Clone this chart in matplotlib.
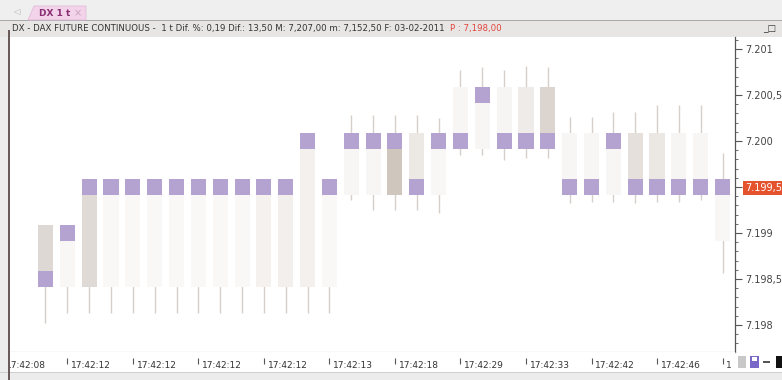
import matplotlib
matplotlib.use("Agg")
import matplotlib.pyplot as plt
from matplotlib.patches import Rectangle, Polygon
from matplotlib import font_manager
import numpy as np

# tick candles (prices in index points)
opens = [7199.0, 7198.5, 7198.5, 7198.5, 7198.5, 7198.5, 7198.5, 7198.5, 7198.5, 7198.5,
         7198.5, 7198.5, 7198.5, 7198.5, 7199.5, 7199.5, 7199.5, 7200.0, 7199.5, 7200.5,
         7200.0, 7200.5, 7200.5, 7200.5, 7200.0, 7200.0, 7199.5, 7200.0, 7200.0, 7200.0,
         7200.0, 7199.0]
closes = [7198.5, 7199.0, 7199.5, 7199.5, 7199.5, 7199.5, 7199.5, 7199.5, 7199.5, 7199.5,
          7199.5, 7199.5, 7200.0, 7199.5, 7200.0, 7200.0, 7200.0, 7199.5, 7200.0, 7200.0,
          7200.5, 7200.0, 7200.0, 7200.0, 7199.5, 7199.5, 7200.0, 7199.5, 7199.5, 7199.5,
          7199.5, 7199.5]
highs = [7199.0, 7199.0, 7199.5, 7199.5, 7199.5, 7199.5, 7199.5, 7199.5, 7199.5, 7199.5,
         7199.5, 7199.5, 7200.0, 7199.5, 7200.28, 7200.28, 7200.28, 7200.28, 7200.25, 7200.77,
         7200.80, 7200.77, 7200.82, 7200.80, 7200.26, 7200.26, 7200.32, 7200.32, 7200.39, 7200.39,
         7200.39, 7199.87]
lows = [7198.02, 7198.13, 7198.13, 7198.13, 7198.13, 7198.13, 7198.13, 7198.13, 7198.13, 7198.13,
        7198.13, 7198.13, 7198.13, 7198.13, 7199.36, 7199.25, 7199.25, 7199.25, 7199.22, 7199.85,
        7199.85, 7199.79, 7199.82, 7199.82, 7199.33, 7199.34, 7199.34, 7199.33, 7199.34, 7199.34,
        7199.36, 7198.57]
body_colors = ["#ddd8d4", "#f9f7f6", "#dfdad6", "#faf8f7", "#faf8f7", "#faf8f7", "#faf8f7", "#faf8f7",
               "#faf8f7", "#faf8f7", "#f4f1ee", "#f2efec", "#f3f0ed", "#faf8f7", "#f8f6f5", "#f8f6f5",
               "#cfc6bd", "#ece8e4", "#f9f7f6", "#f8f6f5", "#f8f6f5", "#f7f5f4", "#efebe8", "#dcd5cf",
               "#f8f6f5", "#f8f6f5", "#f8f6f5", "#e5e0dc", "#ebe7e3", "#f7f5f3", "#f8f6f5", "#f9f7f6"]

ytick_values = [7198.0, 7198.5, 7199.0, 7199.5, 7200.0, 7200.5, 7201.0]
ytick_labels = ["7.198", "7.198,5", "7.199", "7.199,5", "7.200", "7.200,5", "7.201"]
last_price = 7199.5

time_ticks = [-2, 1, 4, 7, 10, 13, 16, 19, 22, 25, 28, 31]
time_labels = ["17:42:08", "17:42:12", "17:42:12", "17:42:12", "17:42:12", "17:42:13",
               "17:42:18", "17:42:29", "17:42:33", "17:42:42", "17:42:46", "1"]

header = ("DX - DAX FUTURE CONTINUOUS -  1 t Dif. %: 0,19 Dif.: 13,50 "
          "M: 7,207,00 m: 7,152,50 F: 03-02-2011")
header_p = "P : 7,198,00"

names = {f.name for f in font_manager.fontManager.ttflist}
fam = "Liberation Sans Narrow" if "Liberation Sans Narrow" in names else "DejaVu Sans"
plt.rcParams["font.family"] = [fam, "DejaVu Sans"]

W, H = 782, 380
fig = plt.figure(figsize=(7.82, 3.80), dpi=100)
fig.patch.set_facecolor("#efefef")


def box(x0, y0, x1, y1, fc, z=-5, ec="none", lw=0):
    fig.add_artist(Rectangle((x0 / W, 1 - y1 / H), (x1 - x0) / W, (y1 - y0) / H,
                             transform=fig.transFigure, fc=fc, ec=ec, lw=lw, zorder=z))


# window chrome
box(0, 20, 782, 21, "#a8a8a8")
box(0, 21, 782, 37, "#e8e6e5")
box(0, 37, 8, 380, "#ececec")
box(735, 37, 782, 372, "#ffffff")
box(0, 372, 782, 380, "#ececec")
box(0, 372, 782, 373, "#cfcfcf")
box(8, 30, 10, 380, "#6b5a5a", z=5)
fig.add_artist(Polygon([(28 / W, 1 - 20 / H), (34 / W, 1 - 6 / H), (86 / W, 1 - 6 / H), (86 / W, 1 - 20 / H)],
                       closed=True, transform=fig.transFigure, fc="#f2d3ea", ec="#e3bcd8", lw=0.6, zorder=-4))
fig.text(13 / W, 1 - 12 / H, "◁", fontsize=6, color="#b0b0b0", va="center", family="DejaVu Sans")
fig.text(39 / W, 1 - 13 / H, "DX 1 t", fontsize=6.5, color="#8a2f74", fontweight="bold", va="center")
fig.text(74 / W, 1 - 13 / H, "×", fontsize=7, color="#c9a0bd", va="center")
fig.text(763 / W, 1 - 29 / H, "_□", fontsize=6.5, color="#333333", va="center", family="DejaVu Sans")

t1 = fig.text(12 / W, 1 - 29 / H, header, fontsize=6.2, color="#333333", va="center")

# main chart
ax = fig.add_axes([10 / W, 1 - 352 / H, 725 / W, 315 / H])
x = np.arange(len(closes))
o = np.array(opens)
c = np.array(closes)
h = 0.092
bw = 0.69
ax.vlines(x, lows, highs, color="#d6d0cb", lw=1, zorder=1)
ax.bar(x, np.abs(c - o) + 2 * h, bottom=np.minimum(o, c) - h, width=bw,
       color=body_colors, linewidth=0, zorder=2)
ax.bar(x, 2 * h, bottom=c - h, width=bw, color="#b4a3d0", linewidth=0, zorder=3)

ax.set_xlim(-1.625, 31.57)
ax.set_ylim(7197.707, 7201.13)
ax.set_xticks([])
ax.yaxis.tick_right()
ax.set_yticks(ytick_values)
ax.set_yticklabels(ytick_labels)
ax.set_yticks(np.arange(7197.8, 7201.15, 0.1), minor=True)
ax.tick_params(axis="y", which="major", length=5, width=0.8, color="#555555",
               labelsize=7, labelcolor="#444444", pad=2)
ax.tick_params(axis="y", which="minor", length=2.5, width=0.6, color="#555555")
ax.spines["top"].set_visible(False)
ax.spines["left"].set_visible(False)
ax.spines["bottom"].set_color("#8a8a8a")
ax.spines["right"].set_color("#555555")
ax.spines["right"].set_linewidth(0.9)
for lab, v in zip(ax.get_yticklabels(), ytick_values):
    if v == last_price:
        lab.set_color("white")
        lab.set_bbox(dict(boxstyle="square,pad=0.2", fc="#e4532e", ec="none"))

ax.annotate(header_p, xy=(1, 0.5), xycoords=t1, xytext=(4, 0), textcoords="offset points",
            va="center", ha="left", fontsize=6.2, color="#e0443a", annotation_clip=False)

# time strip
ax2 = fig.add_axes([10 / W, 1 - 372 / H, 725 / W, 20 / H])
ax2.set_xlim(ax.get_xlim())
ax2.set_ylim(0, 1)
ax2.set_xticks([])
ax2.set_yticks([])
for s in ax2.spines.values():
    s.set_visible(False)
ax2.vlines(time_ticks, 0.4, 0.7, color="#555555", lw=0.8)
for t, lab in zip(time_ticks, time_labels):
    ax2.text(t + 0.17, 0.3, lab, fontsize=6.5, color="#333333", va="center", ha="left", clip_on=True)

# little toolbar icons bottom right
box(738, 356, 746, 368, "#c8c8c8", z=5)
box(750, 356, 759, 368, "#7a68c8", z=5)
box(752, 357, 757, 361, "#ffffff", z=6)
box(763, 361, 770, 363, "#555555", z=5)
box(776, 356, 782, 368, "#111111", z=5)

fig.savefig("out.png", dpi=100, facecolor=fig.get_facecolor())
